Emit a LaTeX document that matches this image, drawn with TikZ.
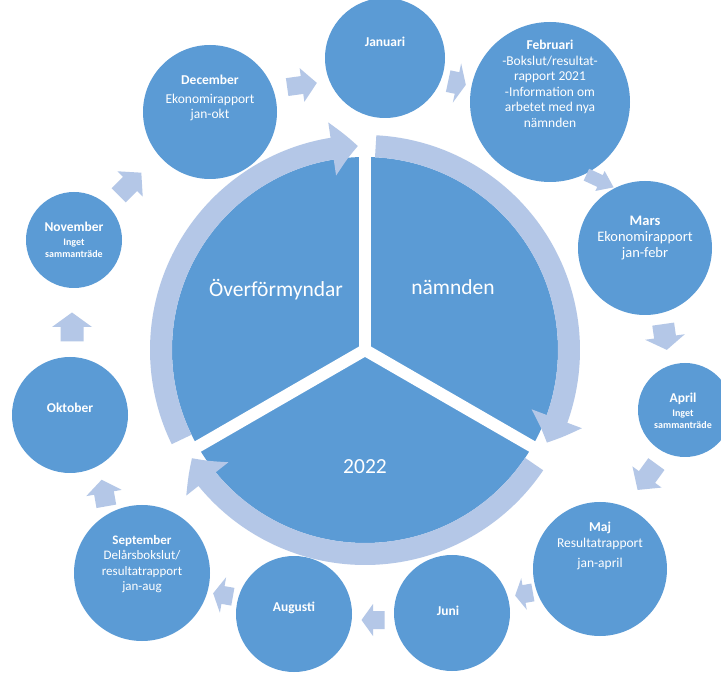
\documentclass[tikz,border=0pt]{standalone}
\usepackage{fontspec}
\setmainfont{Carlito}
\usetikzlibrary{arrows.meta,bending}
\definecolor{mblue}{HTML}{5B9BD5}
\definecolor{lblue}{HTML}{B4C7E7}
\tikzset{
  month/.style={circle, fill=mblue, inner sep=0pt, minimum size=#1},
  mtext/.style={text=white, align=center, inner sep=0pt, font=\fontsize{13.5}{15.5}\selectfont},
  bigtext/.style={text=white, inner sep=0pt, font=\fontsize{21.5}{24}\selectfont},
  ringarrow/.style={draw=lblue, line width=22pt, -{Triangle[length=26pt, width=52pt, bend]}},
  gapline/.style={draw=white, line width=12pt},
  pics/barrow/.style args={#1/#2/#3}{code={
    \fill[lblue] (-#1/2,-#3/2) -- (0,-#3/2) -- (0,-#2/2) -- (#1/2,0) -- (0,#2/2) -- (0,#3/2) -- (-#1/2,#3/2) -- cycle;}}
}
\newcommand{\smallb}[1]{{\fontsize{10}{12}\selectfont\bfseries #1}}
\begin{document}
\begin{tikzpicture}[x=1pt,y=1pt]
\useasboundingbox (0,0) rectangle (721,673);
\clip (0,0) rectangle (721,673);
\fill[white] (0,0) rectangle (721,673);

% central pie
\node[circle, fill=mblue, inner sep=0pt, minimum size=386pt] (pie) at (365,323) {};
\draw[gapline] (pie.center) -- ++(90:224);
\draw[gapline] (pie.center) -- ++(-30:224);
\draw[gapline] (pie.center) -- ++(210:224);

% ring arrows
\draw[ringarrow] (pie.center) ++(206:204) arc[start angle=206, end angle=92, radius=204];
\draw[ringarrow] (pie.center) ++(87:204) arc[start angle=87, end angle=-27, radius=204];
\draw[ringarrow] (pie.center) ++(-34:204) arc[start angle=-34, end angle=-148, radius=204];

\node[bigtext] (t1) at (276,383) {Överförmyndar};
\node[bigtext] (t2) at (453,386) {nämnden};
\node[bigtext] (t3) at (365,206) {2022};

% month circles
\node[month=120pt] (jan) at (385,615) {};
\node[month=160pt] (feb) at (550,571) {};
\node[month=134pt] (mar) at (645,425) {};
\node[month=94pt]  (apr) at (685,263) {};
\node[month=134pt] (maj) at (600,104) {};
\node[month=116pt] (jun) at (452,60) {};
\node[month=116pt] (aug) at (294,59) {};
\node[month=136pt] (sep) at (142,100) {};
\node[month=116pt] (okt) at (70,258) {};
\node[month=96pt]  (nov) at (74,433) {};
\node[month=134pt] (dec) at (210,561) {};

% month texts
\node[mtext] (janT) at (385,631) {\textbf{Januari}};
\node[mtext] (febT) at (550,589) {\textbf{Februari}\\-Bokslut/resultat-\\rapport 2021\\-Information om\\arbetet med nya\\nämnden};
\node[mtext, font=\fontsize{14.5}{16}\selectfont] (marT) at (645,435) {\textbf{Mars}\\Ekonomirapport\\jan-febr};
\node[mtext] (aprT) at (683,262) {\textbf{April}\\[-2pt]\smallb{Inget}\\[-3pt]\smallb{sammanträde}};
\node[mtext] (majT) at (600,127) {\textbf{Maj}\\Resultatrapport\\[5pt]jan-april};
\node[mtext] (junT) at (448,62) {\textbf{Juni}};
\node[mtext] (augT) at (294,65) {\textbf{Augusti}};
\node[mtext, font=\fontsize{13}{15.5}\selectfont] (sepT) at (142,109) {\textbf{September}\\Delårsbokslut/\\resultatrapport\\jan-aug};
\node[mtext] (oktT) at (70,265) {\textbf{Oktober}};
\node[mtext] (novT) at (74,433) {\textbf{November}\\[-2pt]\smallb{Inget}\\[-3pt]\smallb{sammanträde}};
\node[mtext] (decT) at (210,575) {\textbf{December}\\[3pt]Ekonomirapport\\jan-okt};

% block arrows between months
\pic[rotate=8]   at (302,588) {barrow=30/34/18};
\pic[rotate=-12] at (457,590) {barrow=18/40/22};
\pic[rotate=-25] at (600,492) {barrow=30/22/13};
\pic[rotate=-82] at (665,336) {barrow=26/40/22};
\pic[rotate=234] at (647,196) {barrow=32/36/20};
\pic[rotate=190] at (524,79)  {barrow=18/32/18};
\pic[rotate=180] at (373,53)  {barrow=23/32/18};
\pic[rotate=170] at (223,78)  {barrow=20/36/18};
\pic[rotate=100] at (104,180) {barrow=27/36/20};
\pic[rotate=90]  at (72,346)  {barrow=29/40/23};
\pic[rotate=45]  at (130,489) {barrow=32/36/20};
\end{tikzpicture}
\end{document}
